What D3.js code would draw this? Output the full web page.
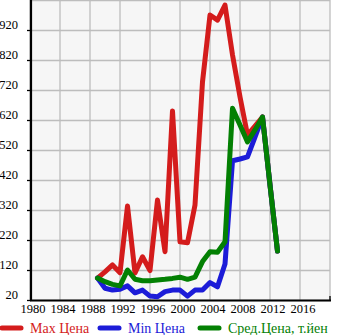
<!DOCTYPE html>
<html><head><meta charset="utf-8">
<script src="https://cdn.jsdelivr.net/npm/d3@7"></script>
<style>
html,body{margin:0;padding:0;background:#fff;}
svg{display:block;}
svg text{font-family:"Liberation Serif","Times New Roman",serif !important;}
</style></head>
<body>
<script>
const years = [1989,1990,1991,1992,1993,1994,1995,1996,1997,1998,1999,2000,2001,2002,2003,2004,2005,2006,2007,2008,2009,2010,2011,2012,2013];
const maxPrice = [93,114,137,111,333,110,164,118,353,181,650,214,211,337,747,970,953,1003,837,697,570,600,630,403,183];
const minPrice = [93,59,53,56,67,44,53,33,31,48,53,53,33,53,53,78,64,140,484,490,497,563,630,403,183];
const avgPrice = [93,81,72,67,120,89,84,84,87,89,92,96,89,96,148,181,179,214,659,603,547,587,630,403,183];
const xTicks = [1980,1984,1988,1992,1996,2000,2004,2008,2012,2016];
const yTicks = [20,120,220,320,420,520,620,720,820,920];
const seriesNames = ["Max Цена","Min Цена","Сред.Цена, т.йен"];
const seriesColors = ["#d41c1c","#1c1cd8","#038003"];

const W = 345, H = 335;
const svg = d3.select("body").append("svg").attr("width", W).attr("height", H);
const x = d3.scaleLinear().domain([1980,2020]).range([30,330]);
const y = d3.scaleLinear().domain([20,1020]).range([300,0]);

// plot background
svg.append("rect").attr("x", x(1980)).attr("y", y(1020)).attr("width", x(2020)-x(1980)).attr("height", y(20)-y(1020)).attr("fill", "#f6f6f6");

// grid
const gridX = xTicks.concat([2020]);
const gridY = yTicks.concat([1020]);
svg.append("g").selectAll("line").data(gridX).join("line")
  .attr("x1", d => x(d)).attr("x2", d => x(d)).attr("y1", y(1020)).attr("y2", y(20))
  .attr("stroke", "#bdbdbd").attr("stroke-width", 1.3);
svg.append("g").selectAll("line").data(gridY).join("line")
  .attr("x1", x(1980)).attr("x2", x(2020)).attr("y1", d => y(d)+0.5).attr("y2", d => y(d)+0.5)
  .attr("stroke", "#bdbdbd").attr("stroke-width", 1.3);

// axes
const yAxis = d3.axisLeft(y).tickValues(yTicks).tickSize(4).tickPadding(9).tickFormat(d3.format("d"));
const gy = svg.append("g").attr("transform", "translate(31,0)").call(yAxis);
gy.attr("font-family", null);
gy.select(".domain").remove();
gy.selectAll("line").attr("stroke", "#000").attr("stroke-width", 1.3);
gy.selectAll("text").attr("font-size", 12.5).attr("fill", "#000").attr("dy", "-0.1em");
svg.append("line").attr("x1", 31).attr("x2", 31).attr("y1", 0).attr("y2", 301).attr("stroke", "#000").attr("stroke-width", 2.2);

const xAxis = d3.axisBottom(x).tickValues(xTicks).tickSize(0).tickPadding(4).tickFormat(d3.format("d"));
const gx = svg.append("g").attr("transform", "translate(0,300)").call(xAxis);
gx.attr("font-family", null);
gx.select(".domain").remove();
gx.selectAll("text").attr("font-size", 12.5).attr("fill", "#000").attr("dx", "0.2em");
svg.append("line").attr("x1", 30).attr("x2", 331).attr("y1", 300.5).attr("y2", 300.5).attr("stroke", "#000").attr("stroke-width", 2.2);
svg.append("line").attr("x1", 330).attr("x2", 330).attr("y1", 296).attr("y2", 301).attr("stroke", "#000").attr("stroke-width", 1.3);

// lines
const line = d3.line().x((d,i) => x(years[i])).y(d => y(d));
[maxPrice, minPrice, avgPrice].forEach((s, k) => {
  svg.append("path").datum(s).attr("d", line)
    .attr("fill", "none").attr("stroke", seriesColors[k]).attr("stroke-width", 5)
    .attr("stroke-linejoin", "round").attr("stroke-linecap", "round");
});

// legend
const legX = [0, 98, 198];
const lg = svg.append("g");
seriesNames.forEach((n, k) => {
  lg.append("line").attr("x1", legX[k]+2).attr("x2", legX[k]+21).attr("y1", 328).attr("y2", 328)
    .attr("stroke", seriesColors[k]).attr("stroke-width", 5).attr("stroke-linecap", "round");
  lg.append("text").attr("x", legX[k]+30).attr("y", 333).attr("font-size", 14)
    .attr("fill", seriesColors[k]).text(n);
});
</script>
</body></html>
